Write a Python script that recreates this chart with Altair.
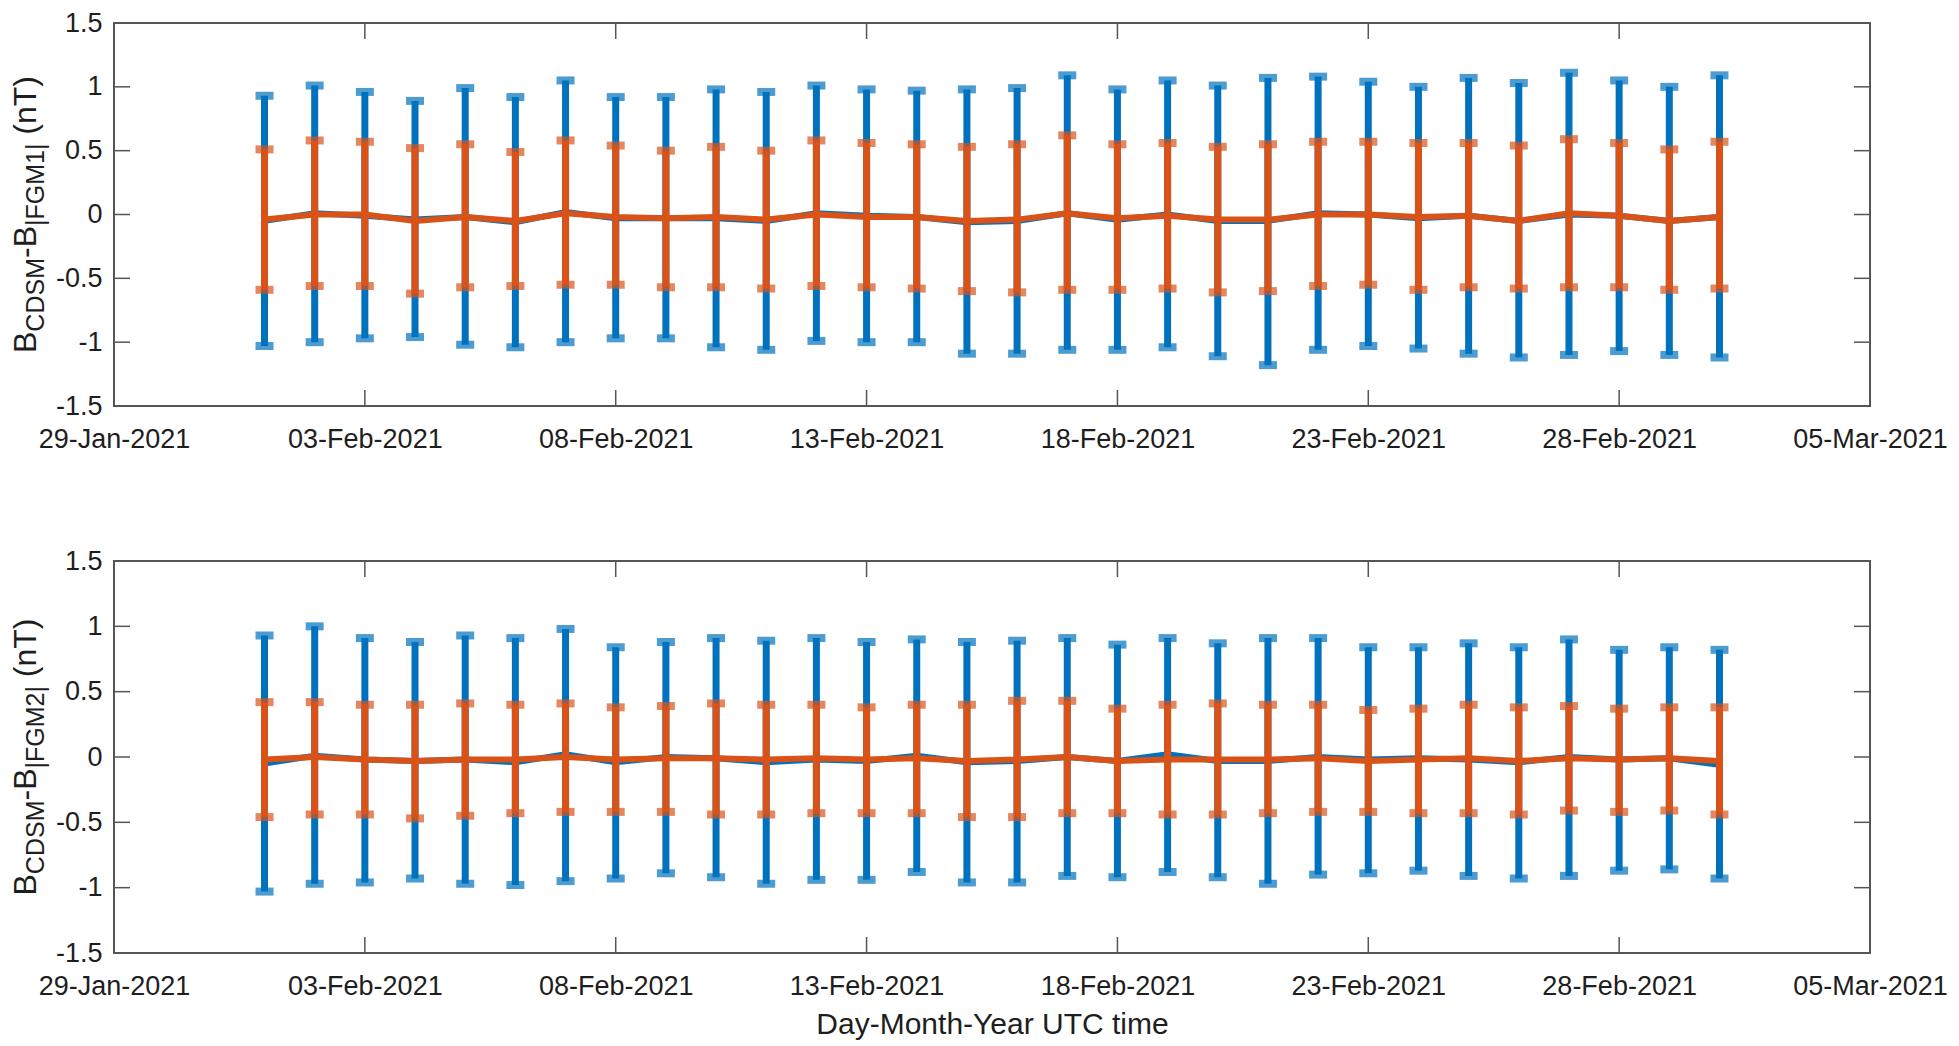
import altair as alt
import pandas as pd

# ---------------- data ----------------
dates = ["2021-02-01", "2021-02-02", "2021-02-03", "2021-02-04", "2021-02-05",
         "2021-02-06", "2021-02-07", "2021-02-08", "2021-02-09", "2021-02-10",
         "2021-02-11", "2021-02-12", "2021-02-13", "2021-02-14", "2021-02-15",
         "2021-02-16", "2021-02-17", "2021-02-18", "2021-02-19", "2021-02-20",
         "2021-02-21", "2021-02-22", "2021-02-23", "2021-02-24", "2021-02-25",
         "2021-02-26", "2021-02-27", "2021-02-28", "2021-03-01", "2021-03-02"]

# panel 1 : B_CDSM - B_|FGM1|
fgm1_blue_mean = [-0.05, 0.01, -0.01, -0.04, -0.02, -0.06, 0.02, -0.03, -0.03, -0.03,
                  -0.05, 0.01, -0.01, -0.02, -0.06, -0.05, 0.01, -0.04, 0.00, -0.05,
                  -0.05, 0.01, 0.00, -0.03, -0.01, -0.05, 0.00, -0.01, -0.05, -0.02]
fgm1_blue_hi = [0.93, 1.01, 0.96, 0.89, 0.99, 0.92, 1.05, 0.92, 0.92, 0.98,
                0.96, 1.01, 0.98, 0.97, 0.98, 0.99, 1.09, 0.98, 1.05, 1.01,
                1.07, 1.08, 1.04, 1.00, 1.07, 1.03, 1.11, 1.05, 1.00, 1.09]
fgm1_blue_lo = [-1.03, -1.00, -0.97, -0.96, -1.02, -1.04, -1.00, -0.97, -0.97, -1.04,
                -1.06, -0.99, -1.00, -1.00, -1.09, -1.09, -1.06, -1.06, -1.04, -1.11,
                -1.18, -1.06, -1.03, -1.05, -1.09, -1.12, -1.10, -1.07, -1.10, -1.12]
fgm1_orange_mean = [-0.04, 0.00, 0.00, -0.05, -0.02, -0.05, 0.01, -0.02, -0.03, -0.02,
                    -0.04, 0.00, -0.02, -0.02, -0.05, -0.04, 0.01, -0.03, -0.01, -0.04,
                    -0.04, 0.00, 0.00, -0.02, -0.01, -0.05, 0.01, -0.01, -0.05, -0.02]
fgm1_orange_hi = [0.51, 0.58, 0.57, 0.52, 0.55, 0.49, 0.58, 0.54, 0.50, 0.53,
                  0.50, 0.58, 0.56, 0.55, 0.53, 0.55, 0.62, 0.55, 0.56, 0.53,
                  0.55, 0.57, 0.57, 0.56, 0.56, 0.54, 0.59, 0.56, 0.51, 0.57]
fgm1_orange_lo = [-0.59, -0.56, -0.56, -0.62, -0.57, -0.56, -0.55, -0.55, -0.57, -0.57,
                  -0.58, -0.56, -0.57, -0.58, -0.60, -0.61, -0.59, -0.59, -0.58, -0.61,
                  -0.60, -0.56, -0.55, -0.59, -0.57, -0.58, -0.57, -0.57, -0.59, -0.58]

# panel 2 : B_CDSM - B_|FGM2|
fgm2_blue_mean = [-0.05, 0.01, -0.02, -0.03, -0.02, -0.04, 0.02, -0.04, 0.00, -0.01,
                  -0.04, -0.02, -0.03, 0.01, -0.04, -0.03, 0.00, -0.03, 0.02, -0.03,
                  -0.03, 0.00, -0.02, -0.01, -0.02, -0.04, 0.00, -0.02, -0.01, -0.06]
fgm2_blue_hi = [0.93, 1.00, 0.91, 0.88, 0.93, 0.91, 0.98, 0.84, 0.88, 0.91,
                0.89, 0.91, 0.88, 0.90, 0.88, 0.89, 0.91, 0.86, 0.91, 0.87,
                0.91, 0.91, 0.84, 0.84, 0.87, 0.84, 0.90, 0.82, 0.84, 0.82]
fgm2_blue_lo = [-1.03, -0.97, -0.96, -0.93, -0.97, -0.98, -0.95, -0.93, -0.89, -0.92,
                -0.97, -0.94, -0.94, -0.88, -0.96, -0.96, -0.91, -0.92, -0.88, -0.92,
                -0.97, -0.90, -0.89, -0.87, -0.91, -0.93, -0.91, -0.87, -0.86, -0.93]
fgm2_orange_mean = [-0.02, 0.00, -0.02, -0.03, -0.02, -0.02, 0.00, -0.02, -0.01, -0.01,
                    -0.02, -0.01, -0.02, -0.01, -0.03, -0.02, 0.00, -0.03, -0.02, -0.02,
                    -0.02, -0.01, -0.03, -0.02, -0.01, -0.03, -0.01, -0.02, -0.01, -0.03]
fgm2_orange_hi = [0.42, 0.42, 0.40, 0.40, 0.41, 0.40, 0.41, 0.38, 0.39, 0.41,
                  0.40, 0.40, 0.38, 0.40, 0.40, 0.43, 0.43, 0.37, 0.40, 0.41,
                  0.40, 0.40, 0.36, 0.37, 0.40, 0.38, 0.39, 0.37, 0.38, 0.38]
fgm2_orange_lo = [-0.46, -0.44, -0.44, -0.47, -0.45, -0.43, -0.42, -0.42, -0.42, -0.44,
                  -0.44, -0.43, -0.43, -0.43, -0.46, -0.46, -0.43, -0.43, -0.44, -0.44,
                  -0.43, -0.42, -0.42, -0.43, -0.43, -0.44, -0.41, -0.42, -0.41, -0.44]

x_tick_dates = ["2021-01-29", "2021-02-03", "2021-02-08", "2021-02-13",
                "2021-02-18", "2021-02-23", "2021-02-28", "2021-03-05"]
y_ticks = [-1.5, -1.0, -0.5, 0.0, 0.5, 1.0, 1.5]

# ---------------- style ----------------
W = 1756
H_TOP = 383
H_BOT = 392
BLUE = "#0072BD"
ORANGE = "#D95319"
FRAME = "#555555"
TEXT = "#1e1e1e"
FONT = "Liberation Sans"


def dt(s):
    y, m, d = (int(p) for p in s.split("-"))
    return alt.DateTime(year=y, month=m, date=d, utc=True)


xscale = alt.Scale(type="utc", domain=[dt(x_tick_dates[0]), dt(x_tick_dates[-1])])
yscale = alt.Scale(domain=[-1.5, 1.5], nice=False, zero=False)


def make_x(field, title):
    kw = dict(values=[dt(s) for s in x_tick_dates], format="%d-%b-%Y",
              ticks=False, tickSize=0, domain=False, grid=False,
              labelPadding=20, labelFontSize=27, labelFont=FONT, labelColor=TEXT,
              labelOverlap=False, labelFlush=False)
    if title:
        kw.update(title=title, titleFontSize=30, titleFont=FONT, titleFontWeight="normal",
                  titleColor=TEXT, titlePadding=10)
    else:
        kw.update(title=None)
    return alt.X(field, type="temporal", scale=xscale, axis=alt.Axis(**kw))


def make_y(field):
    return alt.Y(field, type="quantitative", scale=yscale,
                 axis=alt.Axis(values=y_ticks, labelExpr="'' + datum.value",
                               ticks=False, tickSize=0, domain=False, grid=False,
                               labelPadding=12, labelFontSize=27, labelFont=FONT,
                               labelColor=TEXT, title=None, labelFlush=False))


CHAR_W = {"B": 0.667, "C": 0.722, "D": 0.722, "S": 0.667, "M": 0.833, "-": 0.333,
          "|": 0.26, "F": 0.611, "G": 0.778, "1": 0.556, "2": 0.556, "(": 0.333,
          "n": 0.556, "T": 0.611, ")": 0.333, " ": 0.278}


def ytitle_layers(sub2, H):
    main_fs, sub_fs = 32, 25
    parts = [("B", False), ("CDSM", True), ("-B", False), (sub2, True), (" (nT)", False)]
    widths = [sum(CHAR_W[c] for c in t) * (sub_fs if s else main_fs) for t, s in parts]
    total = sum(widths)
    pos = H / 2 + total / 2
    layers = []
    for (t, s), w in zip(parts, widths):
        txt = t.strip()
        lead = (w - sum(CHAR_W[c] for c in txt) * (sub_fs if s else main_fs))
        layers.append(
            alt.Chart(pd.DataFrame({"s": [txt]}))
            .mark_text(angle=270, align="left", baseline="alphabetic",
                       fontSize=sub_fs if s else main_fs, font=FONT, color=TEXT)
            .encode(x=alt.value(-78 + (8 if s else 0)), y=alt.value(pos - lead), text="s:N")
        )
        pos -= w
    return layers


def panel(bm, bhi, blo, om, ohi, olo, sub2, xtitle, H):
    df = pd.DataFrame({"date": dates, "bm": bm, "bhi": bhi, "blo": blo,
                       "om": om, "ohi": ohi, "olo": olo})
    base = alt.Chart(df)
    X = make_x("date", xtitle)
    cap = dict(orient="horizontal", size=18, thickness=8)
    layers = [
        base.mark_rule(color=BLUE, strokeWidth=7).encode(x=X, y=make_y("blo"), y2="bhi"),
        base.mark_tick(color=BLUE, **cap).encode(x=X, y=make_y("bhi")),
        base.mark_tick(color=BLUE, **cap).encode(x=X, y=make_y("blo")),
        base.mark_line(color=BLUE, strokeWidth=6).encode(x=X, y=make_y("bm")),
        base.mark_rule(color=ORANGE, strokeWidth=7).encode(x=X, y=make_y("olo"), y2="ohi"),
        base.mark_tick(color=ORANGE, **cap).encode(x=X, y=make_y("ohi")),
        base.mark_tick(color=ORANGE, **cap).encode(x=X, y=make_y("olo")),
        base.mark_line(color=ORANGE, strokeWidth=6).encode(x=X, y=make_y("om")),
    ]
    ydf = alt.Chart(pd.DataFrame({"t": y_ticks[1:-1]}))
    xdf = alt.Chart(pd.DataFrame({"d": x_tick_dates[1:-1]}))
    layers += [
        ydf.mark_rule(color=FRAME, strokeWidth=1.5).encode(y=make_y("t"), x=alt.value(0), x2=alt.value(16)),
        ydf.mark_rule(color=FRAME, strokeWidth=1.5).encode(y=make_y("t"), x=alt.value(W - 16), x2=alt.value(W)),
        xdf.mark_rule(color=FRAME, strokeWidth=1.5).encode(x=make_x("d", xtitle), y=alt.value(0), y2=alt.value(16)),
        xdf.mark_rule(color=FRAME, strokeWidth=1.5).encode(x=make_x("d", xtitle), y=alt.value(H - 16), y2=alt.value(H)),
    ]
    layers += ytitle_layers(sub2, H)
    return alt.layer(*layers).properties(width=W, height=H)


top = panel(fgm1_blue_mean, fgm1_blue_hi, fgm1_blue_lo,
            fgm1_orange_mean, fgm1_orange_hi, fgm1_orange_lo, "|FGM1|", None, H_TOP)
bottom = panel(fgm2_blue_mean, fgm2_blue_hi, fgm2_blue_lo,
               fgm2_orange_mean, fgm2_orange_hi, fgm2_orange_lo, "|FGM2|",
               "Day-Month-Year UTC time", H_BOT)

chart = (
    alt.vconcat(top, bottom, spacing=155, bounds="flush")
    .properties(padding={"left": 0, "top": 0, "right": 0, "bottom": 0})
    .configure(background="white")
    .configure_view(stroke=FRAME, strokeWidth=2)
)

chart.save("out.html", embed_options={"renderer": "svg", "actions": False})
